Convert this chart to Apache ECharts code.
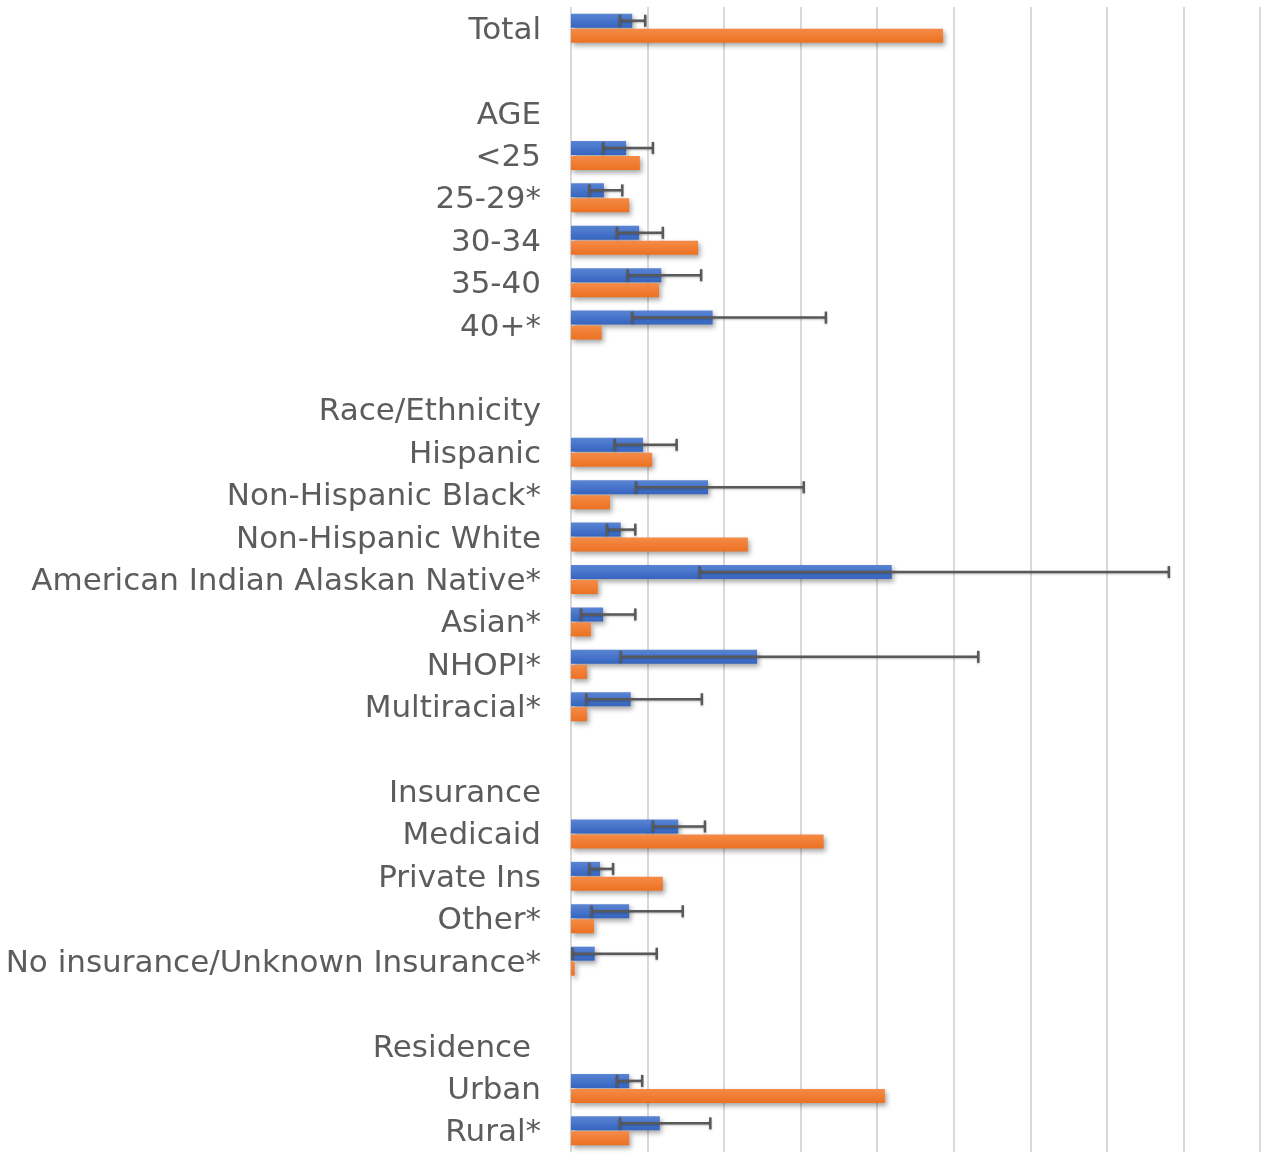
<!DOCTYPE html>
<html>
<head>
<meta charset="utf-8">
<script src="https://cdn.jsdelivr.net/npm/echarts@6/dist/echarts.min.js"></script>
<style>
html,body{margin:0;padding:0;background:#fff;}
#chart{width:1281px;height:1160px;}
</style>
</head>
<body>
<div id="chart"></div>
<script>
const categories = ['Total',' ','AGE','<25','25-29*','30-34','35-40','40+*','  ','Race/Ethnicity','Hispanic','Non-Hispanic Black*','Non-Hispanic White','American Indian Alaskan Native*','Asian*','NHOPI*','Multiracial*','   ','Insurance','Medicaid','Private Ins','Other*','No insurance/Unknown Insurance*','    ','Residence ','Urban','Rural*'];

const blueValues = [0.80,null,null,0.72,0.43,0.89,1.18,1.85,null,null,0.94,1.79,0.65,4.19,0.42,2.43,0.78,null,null,1.40,0.38,0.76,0.31,null,null,0.76,1.16];
const orangeValues = [4.86,null,null,0.90,0.76,1.66,1.15,0.40,null,null,1.06,0.51,2.31,0.35,0.26,0.21,0.21,null,null,3.30,1.20,0.30,0.05,null,null,4.10,0.76];
const errLow = [0.64,null,null,0.42,0.24,0.60,0.74,0.80,null,null,0.57,0.85,0.47,1.68,0.13,0.65,0.20,null,null,1.07,0.24,0.27,0.02,null,null,0.60,0.64];
const errHigh = [0.97,null,null,1.07,0.67,1.20,1.70,3.33,null,null,1.38,3.04,0.84,7.81,0.84,5.32,1.71,null,null,1.75,0.55,1.46,1.12,null,null,0.93,1.82];

const errData = [];
for (let i = 0; i < categories.length; i++) {
  if (errLow[i] != null) errData.push([errLow[i], errHigh[i], i]);
}

const chart = echarts.init(document.getElementById('chart'), null, {renderer: 'canvas'});

const shadow = {shadowColor: 'rgba(0,0,0,0.35)', shadowBlur: 5, shadowOffsetX: 2, shadowOffsetY: 3};

const option = {
  backgroundColor: '#ffffff',
  animation: false,
  grid: {left: 571, right: 21, top: 7, bottom: 8, containLabel: false},
  xAxis: {
    type: 'value', min: 0, max: 9, interval: 1,
    axisLabel: {show: false}, axisLine: {show: false}, axisTick: {show: false},
    splitLine: {show: true, lineStyle: {color: '#d9d9d9', width: 2}}
  },
  yAxis: {
    type: 'category', inverse: true, data: categories,
    axisLine: {show: false}, axisTick: {show: false},
    axisLabel: {
      color: '#5c5c5c', fontSize: 31, fontFamily: 'DejaVu Sans', margin: 30, interval: 0,
      formatter: function (v) { return '{a|' + v + '}'; },
      rich: {a: {color: '#5c5c5c', fontSize: 31, fontFamily: 'DejaVu Sans', padding: [5, 0, 0, 0]}}
    }
  },
  series: [
    {
      name: 'blue', type: 'bar', data: blueValues, barWidth: 14, barGap: '7%',
      itemStyle: Object.assign({
        color: {type: 'linear', x: 0, y: 0, x2: 0, y2: 1, colorStops: [
          {offset: 0, color: '#5a84d4'}, {offset: 1, color: '#3565c0'}]}
      }, shadow)
    },
    {
      name: 'orange', type: 'bar', data: orangeValues, barWidth: 14,
      itemStyle: Object.assign({
        color: {type: 'linear', x: 0, y: 0, x2: 0, y2: 1, colorStops: [
          {offset: 0, color: '#f58b47'}, {offset: 1, color: '#ec7122'}]}
      }, shadow)
    },
    {
      name: 'err', type: 'custom', data: errData,
      encode: {x: [0, 1], y: 2},
      z: 5,
      renderItem: function (params, api) {
        const lo = api.coord([api.value(0), api.value(2)]);
        const hi = api.coord([api.value(1), api.value(2)]);
        const y = lo[1] - 7.5;
        const h = 6;
        const style = {stroke: '#595959', lineWidth: 2.5, shadowColor: 'rgba(0,0,0,0.25)', shadowBlur: 2, shadowOffsetY: 1};
        return {
          type: 'group',
          children: [
            {type: 'line', shape: {x1: lo[0], y1: y, x2: hi[0], y2: y}, style: style},
            {type: 'line', shape: {x1: lo[0], y1: y - h, x2: lo[0], y2: y + h}, style: style},
            {type: 'line', shape: {x1: hi[0], y1: y - h, x2: hi[0], y2: y + h}, style: style}
          ]
        };
      }
    }
  ]
};
chart.setOption(option);
</script>
</body>
</html>
